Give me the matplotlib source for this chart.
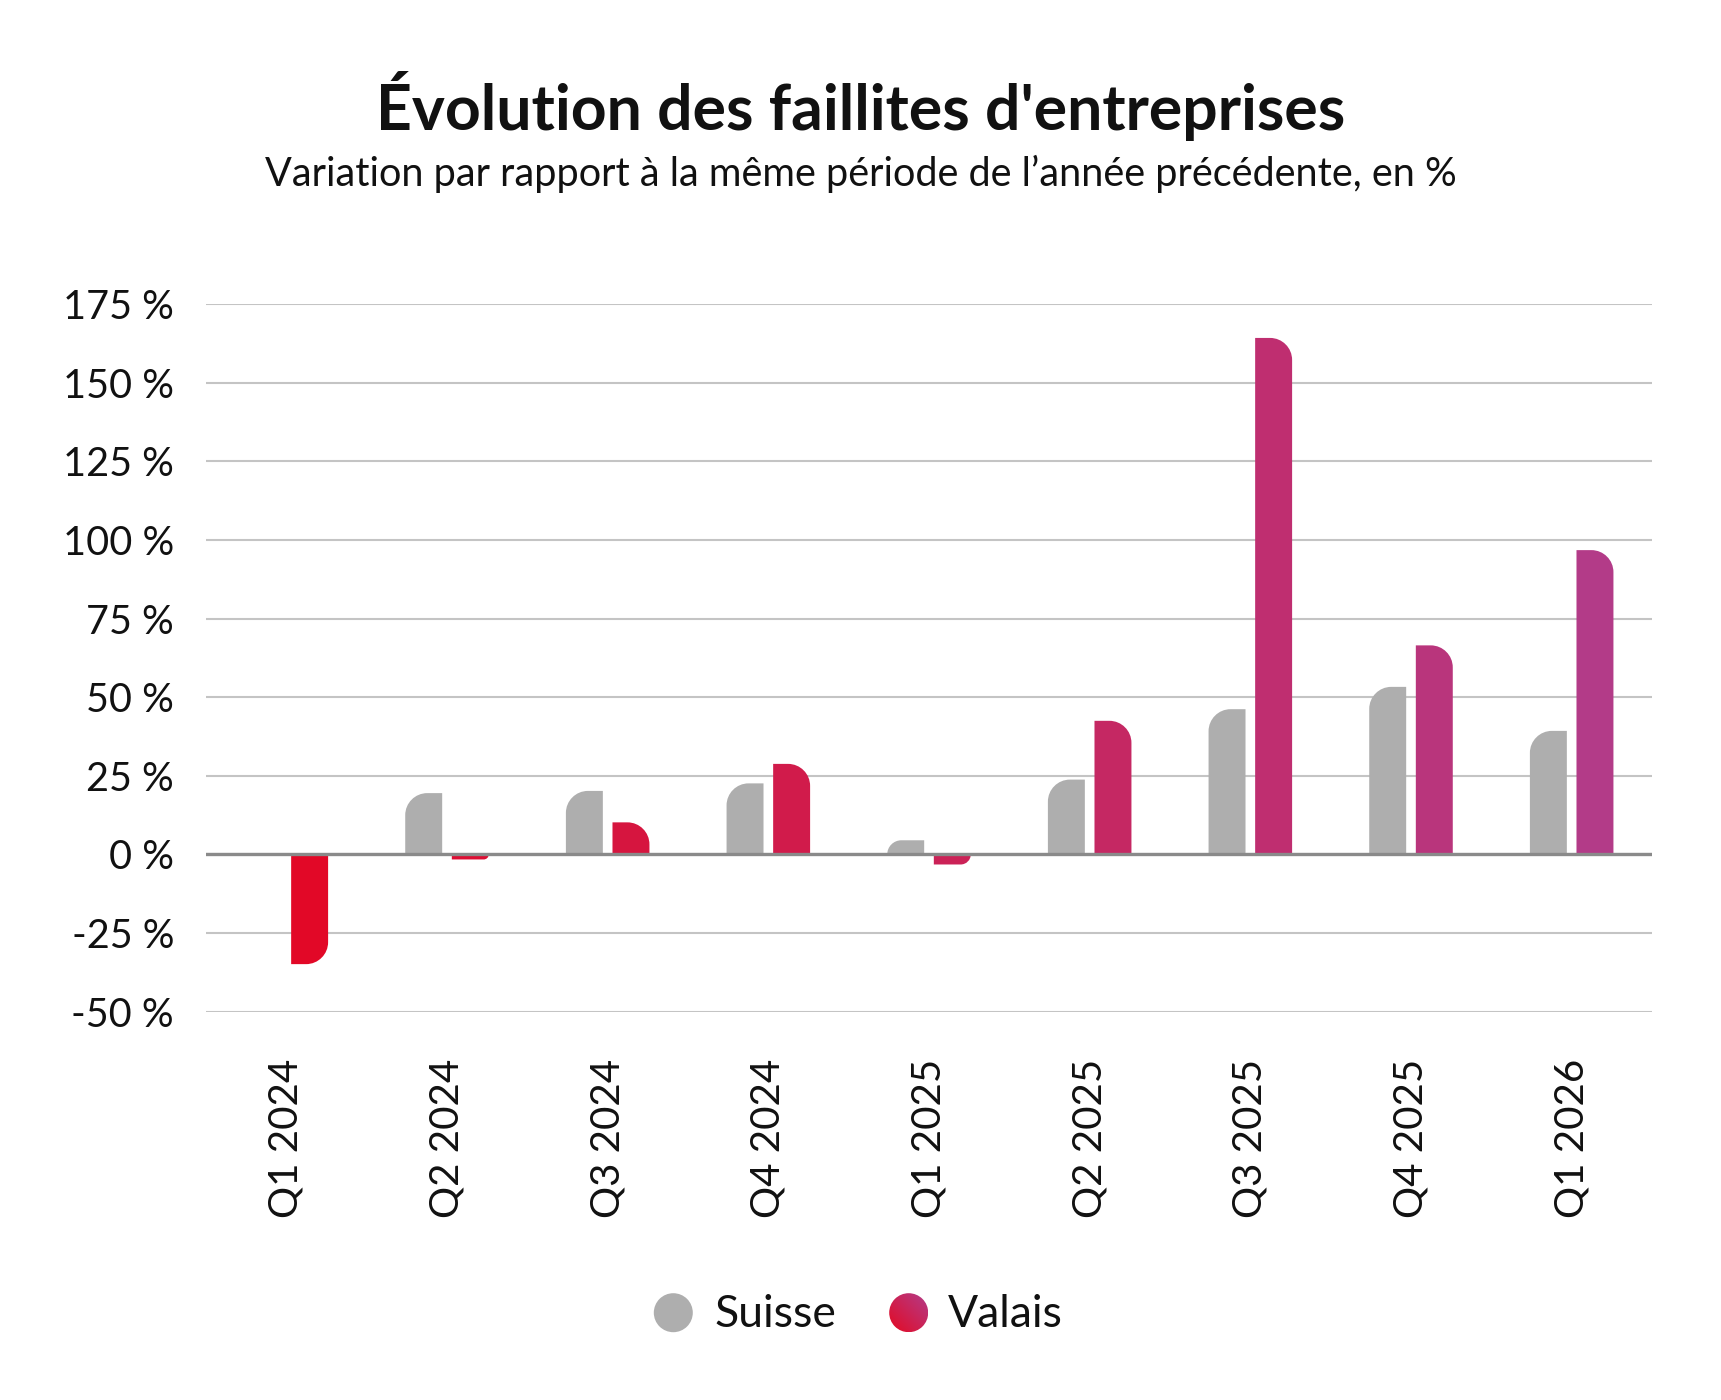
import numpy as np
import matplotlib
matplotlib.use("Agg")
import matplotlib.pyplot as plt
from matplotlib.path import Path
from matplotlib.patches import PathPatch, Circle
from matplotlib.colors import LinearSegmentedColormap
from matplotlib.transforms import IdentityTransform

# ---------------- data ----------------
categories = ["Q1 2024", "Q2 2024", "Q3 2024", "Q4 2024", "Q1 2025",
              "Q2 2025", "Q3 2025", "Q4 2025", "Q1 2026"]
suisse = [0.0, 19.5, 20.2, 22.6, 4.5, 23.8, 46.2, 53.3, 39.3]
valais = [-34.9, -1.6, 10.2, 28.8, -3.2, 42.5, 164.3, 66.5, 96.8]
series_names = ["Suisse", "Valais"]
yticks = [-50, -25, 0, 25, 50, 75, 100, 125, 150, 175]
ytick_labels = [f"{v} %" for v in yticks]
title = "Évolution des faillites d'entreprises"
subtitle = "Variation par rapport à la même période de l’année précédente, en %"

# ---------------- style ----------------
FONT = ["Lato", "DejaVu Sans"]
plt.rcParams["font.family"] = FONT
W, H, DPI = 1721, 1400, 100
GRAY = "#aeaeae"
RED = "#e6041f"
PURPLE = "#b13d8c"
RADIUS_PX = 22

fig = plt.figure(figsize=(W / DPI, H / DPI), dpi=DPI)
fig.patch.set_facecolor("white")

ax_l, ax_r, ax_t, ax_b = 206, 1652, 304.3, 1011.6
ax = fig.add_axes([ax_l / W, (H - ax_b) / H, (ax_r - ax_l) / W, (ax_b - ax_t) / H])

x = np.arange(len(categories))
bw = 0.23
off = 0.145
ax.set_xlim(-0.5, len(categories) - 0.5)
ax.set_ylim(yticks[0], yticks[-1])

sx = (ax_r - ax_l) / (len(categories))          # px per data unit (x)
sy = (ax_b - ax_t) / (yticks[-1] - yticks[0])   # px per data unit (y)
K = 0.5523


def rounded_path(x0, w, h, side):
    """bar from y=0 to y=h, rounded corner at the far end on given side."""
    s = 1.0 if h >= 0 else -1.0
    ye = h
    xl, xr = x0, x0 + w
    r = min(RADIUS_PX, w * sx, abs(h) * sy)
    rx, ry = r / sx, r / sy
    if side == "right":
        verts = [(xl, 0), (xr, 0), (xr, ye - s * ry),
                 (xr, ye - s * ry + s * K * ry), (xr - rx + K * rx, ye), (xr - rx, ye),
                 (xl, ye), (xl, 0)]
        codes = [Path.MOVETO, Path.LINETO, Path.LINETO,
                 Path.CURVE4, Path.CURVE4, Path.CURVE4,
                 Path.LINETO, Path.CLOSEPOLY]
    else:
        verts = [(xl, 0), (xr, 0), (xr, ye), (xl + rx, ye),
                 (xl + rx - K * rx, ye), (xl, ye - s * ry + s * K * ry), (xl, ye - s * ry),
                 (xl, 0)]
        codes = [Path.MOVETO, Path.LINETO, Path.LINETO, Path.LINETO,
                 Path.CURVE4, Path.CURVE4, Path.CURVE4,
                 Path.CLOSEPOLY]
    return Path(verts, codes)


cmap = LinearSegmentedColormap.from_list("valais", [RED, PURPLE])

bars_s = ax.bar(x - off, suisse, bw, color=GRAY)
bars_v = ax.bar(x + off, valais, bw, color=RED)

for rect in bars_s:
    rect.set_visible(False)
    if rect.get_height() == 0:
        continue
    p = rounded_path(rect.get_x(), rect.get_width(), rect.get_height(), "left")
    ax.add_patch(PathPatch(p, facecolor=GRAY, edgecolor="none", zorder=2))

xmin, xmax = ax.get_xlim()
for rect in bars_v:
    rect.set_visible(False)
    if rect.get_height() == 0:
        continue
    cx = rect.get_x() + rect.get_width() / 2
    col = cmap((cx - xmin) / (xmax - xmin))
    p = rounded_path(rect.get_x(), rect.get_width(), rect.get_height(), "right")
    ax.add_patch(PathPatch(p, facecolor=col, edgecolor="none", zorder=2))

# grid and zero line
ax.set_yticks(yticks)
ax.set_yticklabels(ytick_labels)
ax.yaxis.grid(True, color="#c4c4c4", linewidth=1.5, zorder=0)
ax.set_axisbelow(True)
ax.axhline(0, color="#8a8a8a", linewidth=2.4, zorder=3)

ax.set_xticks(x)
ax.set_xticklabels(categories, rotation=90, ha="center", va="top")
ax.tick_params(axis="x", length=0, pad=34, labelsize=29, labelcolor="#111111")
ax.tick_params(axis="y", length=0, pad=23, labelsize=28.5, labelcolor="#111111")
for sp in ax.spines.values():
    sp.set_visible(False)

# titles
fig.text(0.5, (H - 130) / H, title, ha="center", va="baseline",
         fontsize=45, fontweight="bold", color="#111111")
fig.text(0.5, (H - 186) / H, subtitle, ha="center", va="baseline",
         fontsize=28.5, fontweight="normal", color="#111111")

# legend
leg_y = H - 1312.7
r_leg = 19.5
fig.add_artist(Circle((673.3, leg_y), r_leg, transform=IdentityTransform(),
                      facecolor=GRAY, edgecolor="none"))
fig.text(714 / W, (H - 1326.7) / H, series_names[0], ha="left", va="baseline",
         fontsize=32, color="#111111")

gax = fig.add_axes([(908.7 - r_leg) / W, (leg_y - r_leg) / H, 2 * r_leg / W, 2 * r_leg / H])
gx, gy = np.meshgrid(np.linspace(0, 1, 64), np.linspace(0, 1, 64))
im = gax.imshow((gx + gy) / 2, cmap=LinearSegmentedColormap.from_list("lg", ["#e30a23", "#b33c8a"]),
                origin="lower", extent=(0, 1, 0, 1), aspect="auto")
clip = Circle((0.5, 0.5), 0.5, transform=gax.transAxes)
im.set_clip_path(clip)
gax.set_axis_off()
fig.text(948 / W, (H - 1326.7) / H, series_names[1], ha="left", va="baseline",
         fontsize=32, color="#111111")

fig.savefig("out.png", dpi=DPI, facecolor="white")
